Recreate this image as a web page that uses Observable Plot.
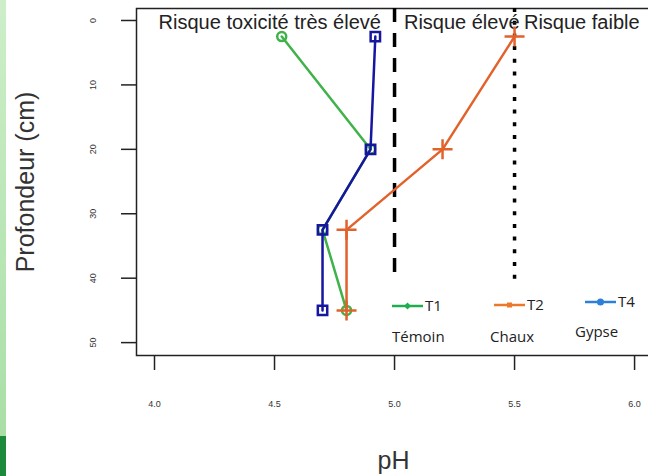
<!DOCTYPE html>
<html>
<head>
<meta charset="utf-8">
<script src="https://cdn.jsdelivr.net/npm/d3@7"></script>
<script src="https://cdn.jsdelivr.net/npm/@observablehq/plot@0.6"></script>
<style>
  body { margin: 0; background: #fff; }
  #wrap { position: relative; width: 648px; height: 476px; overflow: hidden; font-family: "Liberation Sans", Arial, sans-serif; }
  #strip { position: absolute; left: 0; top: 0; width: 6px; height: 436px; background: linear-gradient(#cdeec9, #a9dfa6); }
  #strip2 { position: absolute; left: 0; top: 436px; width: 6px; height: 40px; background: #1c8a3c; }
</style>
</head>
<body>
<div id="wrap">
  <div id="chart"></div>
  <div id="strip"></div><div id="strip2"></div>
</div>
<script>
const depth = [2.5, 20, 32.5, 45];
const phT1 = [4.53, 4.9, 4.7, 4.8];
const phT2 = [5.5, 5.2, 4.8, 4.8];
const phT4 = [4.92, 4.9, 4.7, 4.7];
const xTicks = [4.0, 4.5, 5.0, 5.5, 6.0];
const yTicks = [0, 10, 20, 30, 40, 50];
const zoneLabels = ["Risque toxicité très élevé", "Risque élevé", "Risque faible"];
const zoneX = [4.48, 5.28, 5.78];
const thresholds = [5.0, 5.5];
const legendKeys = ["T1", "T2", "T4"];
const legendNames = ["Témoin", "Chaux", "Gypse"];

const colT1 = "#3fb24a", colT2 = "#e2622c", colT4 = "#1616a0";
const t1 = depth.map((d, i) => ({ph: phT1[i], depth: d}));
const t2 = depth.map((d, i) => ({ph: phT2[i], depth: d}));
const t4 = depth.map((d, i) => ({ph: phT4[i], depth: d}));
const zones = zoneLabels.map((t, i) => ({t, x: zoneX[i]}));

const plusSymbol = {
  draw(context, size) {
    const s = Math.sqrt(size / Math.PI);
    context.moveTo(-s, 0); context.lineTo(s, 0);
    context.moveTo(0, -s); context.lineTo(0, s);
  }
};

const yTop = -1.86, yStop = 40.3;

const chart = Plot.plot({
  width: 648, height: 476,
  marginLeft: 136, marginTop: 8, marginBottom: 121, marginRight: -12,
  x: {domain: [3.925, 6.108]},
  y: {domain: [yTop, 52.0], reverse: true},
  style: {fontFamily: "Liberation Sans, Arial, sans-serif", background: "transparent", overflow: "visible"},
  marks: [
    Plot.frame({stroke: "#222", strokeWidth: 1.5}),
    Plot.axisX({ticks: xTicks, tickSize: 15, tickPadding: 30, tickFormat: d3.format(".1f"), fontSize: 9, label: null, stroke: "#222", strokeWidth: 1.5, color: "#333"}),
    Plot.axisY({ticks: yTicks, tickSize: 15, tickFormat: () => "", label: null, stroke: "#222", strokeWidth: 1.5}),
    Plot.text(yTicks, {y: d => d, text: d => String(d), frameAnchor: "left", textAnchor: "middle", dx: -43, rotate: -90, fontSize: 9, fill: "#333"}),
    Plot.text(["Profondeur (cm)"], {frameAnchor: "left", textAnchor: "middle", dx: -111, rotate: -90, fontSize: 25, fill: "#333"}),
    Plot.text(["pH"], {frameAnchor: "bottom", textAnchor: "middle", dy: 113, dx: -5, fontSize: 25, fill: "#333"}),
    Plot.ruleX([thresholds[0]], {y1: yTop, y2: yStop, stroke: "#000", strokeWidth: 3.5, strokeDasharray: "14,11"}),
    Plot.ruleX([thresholds[1]], {y1: yTop, y2: yStop, stroke: "#000", strokeWidth: 3.5, strokeDasharray: "4,8.7"}),
    Plot.text(zones, {x: "x", y: 0.3, text: "t", fontSize: 20, fill: "#222"}),
    Plot.line(t1, {x: "ph", y: "depth", stroke: colT1, strokeWidth: 2.5}),
    Plot.dot(t1, {x: "ph", y: "depth", stroke: colT1, r: 4.5, strokeWidth: 2.5, fill: "none"}),
    Plot.line(t2, {x: "ph", y: "depth", stroke: colT2, strokeWidth: 2.5}),
    Plot.dot(t2, {x: "ph", y: "depth", stroke: colT2, r: 10, strokeWidth: 2.5, symbol: plusSymbol, fill: "none"}),
    Plot.line(t4, {x: "ph", y: "depth", stroke: colT4, strokeWidth: 2.5}),
    Plot.dot(t4, {x: "ph", y: "depth", stroke: colT4, r: 5.3, strokeWidth: 2.5, symbol: "square", fill: "none"})
  ]
});
document.getElementById("chart").appendChild(chart);

// Legend overlay positioned like the reference
const lg = [
  {key: legendKeys[0], name: legendNames[0], color: "#1fae4f", x: 392, y: 306, ny: 337, nx: 392, marker: "diamond"},
  {key: legendKeys[1], name: legendNames[1], color: "#ec782c", x: 494, y: 305, ny: 337, nx: 490, marker: "square"},
  {key: legendKeys[2], name: legendNames[2], color: "#2e7fd8", x: 585, y: 302, ny: 332, nx: 575, marker: "circle"}
];
const ns = "http://www.w3.org/2000/svg";
const svg = document.createElementNS(ns, "svg");
svg.setAttribute("width", 648); svg.setAttribute("height", 476);
svg.style.position = "absolute"; svg.style.left = "0"; svg.style.top = "0";
for (const it of lg) {
  const l = document.createElementNS(ns, "line");
  l.setAttribute("x1", it.x); l.setAttribute("x2", it.x + 31);
  l.setAttribute("y1", it.y); l.setAttribute("y2", it.y);
  l.setAttribute("stroke", it.color); l.setAttribute("stroke-width", 2.5);
  svg.appendChild(l);
  const cx = it.x + 15.5;
  let m;
  if (it.marker === "circle") {
    m = document.createElementNS(ns, "circle");
    m.setAttribute("cx", cx); m.setAttribute("cy", it.y); m.setAttribute("r", 3.5);
  } else if (it.marker === "square") {
    m = document.createElementNS(ns, "rect");
    m.setAttribute("x", cx - 2.5); m.setAttribute("y", it.y - 2.5); m.setAttribute("width", 5); m.setAttribute("height", 5);
  } else {
    m = document.createElementNS(ns, "path");
    m.setAttribute("d", `M${cx},${it.y - 3.5}L${cx + 3.5},${it.y}L${cx},${it.y + 3.5}L${cx - 3.5},${it.y}Z`);
  }
  m.setAttribute("fill", it.color);
  svg.appendChild(m);
  const t = document.createElementNS(ns, "text");
  t.setAttribute("x", it.x + 33); t.setAttribute("y", it.y + 5);
  t.setAttribute("font-size", 15); t.setAttribute("fill", "#222");
  t.setAttribute("font-family", "Open Sans, Noto Sans, sans-serif");
  t.textContent = it.key;
  svg.appendChild(t);
  const n = document.createElementNS(ns, "text");
  n.setAttribute("x", it.nx); n.setAttribute("y", it.ny + 5);
  n.setAttribute("font-size", 15); n.setAttribute("fill", "#222");
  n.setAttribute("font-family", "Open Sans, Noto Sans, sans-serif");
  n.textContent = it.name;
  svg.appendChild(n);
}
document.getElementById("wrap").appendChild(svg);
</script>
</body>
</html>
